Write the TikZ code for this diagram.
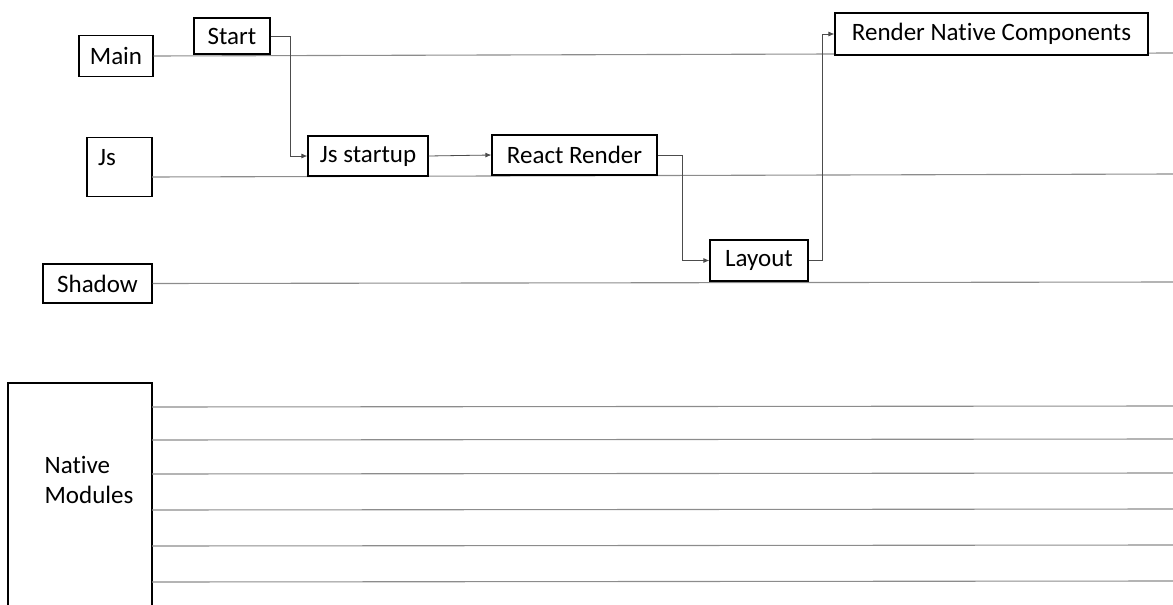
\documentclass[tikz,border=0pt]{standalone}
\usepackage{fontspec}
\setmainfont{Carlito}[Ligatures=NoCommon]
\usetikzlibrary{arrows.meta}
\begin{document}
\begin{tikzpicture}[x=1pt,y=-1pt,
  txt/.style={font=\fontsize{25}{30}\selectfont},
  box/.style={draw=black,line width=1.2pt,fill=white,inner sep=0pt,txt},
  lane/.style={draw=black!45,line width=1.1pt},
  conn/.style={draw=black!70,line width=0.8pt},
  arr/.style={conn,-{Latex[length=6pt,width=5pt]}}]
\useasboundingbox (0,0) rectangle (1173,605);
% lanes
\coordinate (mainE) at (1173,53);
\coordinate (jsE) at (1173,174);
\coordinate (shE) at (1173,282);
\node[box,minimum width=74pt,minimum height=41pt] (main) at (116,56) {Main};
\node[box,minimum width=65pt,minimum height=59pt] (js) at (119.5,167) {};
\node[txt,inner sep=0pt] (jst) at (107,158) {Js};
\node[box,minimum width=109pt,minimum height=39pt] (shadow) at (97.5,283.5) {Shadow};
\draw[lane] (main.east) -- (mainE);
\draw[lane] (152,177) -- (jsE);
\draw[lane] (shadow.east) -- (shE);
% native modules
\draw[line width=1.2pt] (8,610) -- (8,383) -- (152,383) -- (152,610);
\node[txt,align=left,inner sep=0pt] (nm) at (89,480) {Native\\Modules};
\foreach \y/\n in {407/a,440/b,474/c,510/d,546/e,582/f}{
  \coordinate (nm\n) at (152,\y);
  \coordinate (nme\n) at (1173,\y-1);
  \draw[lane] (nm\n) -- (nme\n);
}
% process boxes
\node[box,minimum width=76pt,minimum height=36pt] (start) at (232,36) {Start};
\node[box,minimum width=120pt,minimum height=40pt] (jss) at (368,156) {Js startup};
\node[box,minimum width=165pt,minimum height=40pt] (rr) at (574.5,155) {React Render};
\node[box,minimum width=98pt,minimum height=41pt] (lay) at (759,260.5) {Layout};
\node[box,minimum width=313pt,minimum height=42pt] (rnc) at (991.5,34) {Render Native Components};
% connectors
\draw[arr] (start.east) -- ++(20,0) |- (jss.west);
\draw[arr] (jss.east) -- (rr.west);
\draw[arr] (rr.east) -- ++(25,0) |- (lay.west);
\draw[arr] (lay.east) -- ++(14,0) |- (rnc.west);
\end{tikzpicture}
\end{document}
